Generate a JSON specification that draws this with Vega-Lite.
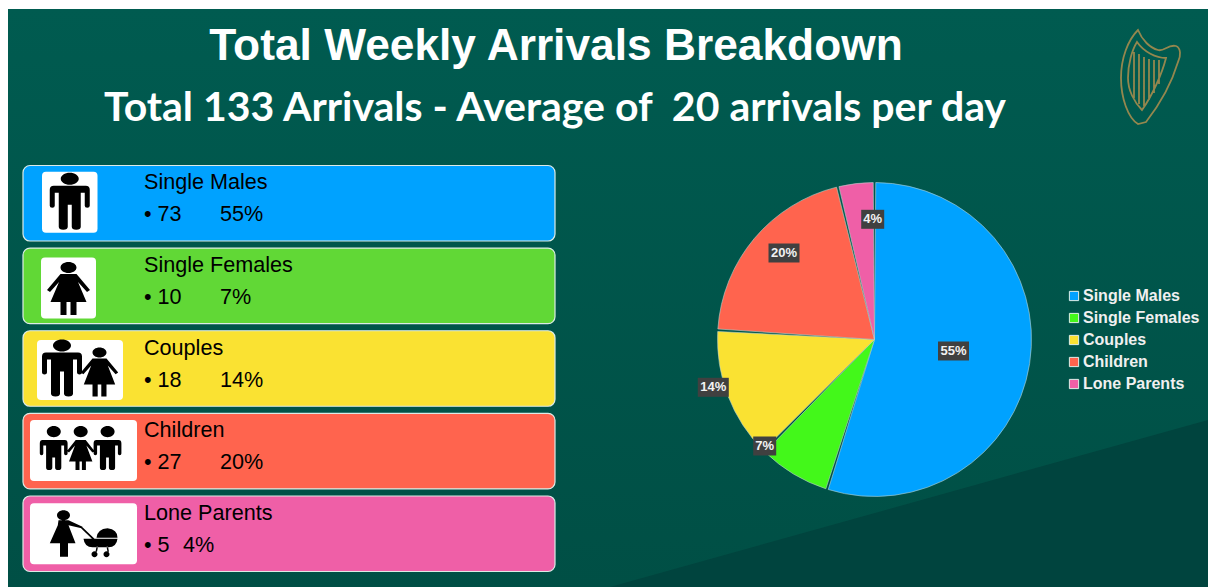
{
"$schema":"https://vega.github.io/schema/vega-lite/v6.json",
"width":1208,"height":587,
"autosize":{"type":"fit","contains":"padding"},
"padding":0,
"background":"#ffffff",
"config":{"view":{"stroke":null}},
"datasets":{"rows":[
{"category":"Single Males","count":73,"share":55,"rank":1,"bullet":"• 73","pct":"55%","label":"55%"},
{"category":"Single Females","count":10,"share":7,"rank":2,"bullet":"• 10","pct":"7%","label":"7%"},
{"category":"Couples","count":18,"share":14,"rank":3,"bullet":"• 18","pct":"14%","label":"14%"},
{"category":"Children","count":27,"share":20,"rank":4,"bullet":"• 27","pct":"20%","label":"20%"},
{"category":"Lone Parents","count":5,"share":4,"rank":5,"bullet":"• 5","pct":"4%","label":"4%"}
]},
"data":{"name":"rows"},
"resolve":{"scale":{"x":"independent","y":"independent","color":"independent"},"legend":{"color":"independent"}},
"layer":[
{"data":{"values":[{"part":"slide"}]},"mark":{"type":"rect","fill":{"gradient":"linear","x1":0,"y1":0,"x2":0,"y2":1,"stops":[{"offset":0,"color":"#005b50"},{"offset":1,"color":"#004f45"}]}},"encoding":{"x":{"value":8},"x2":{"value":1208},"y":{"value":9},"y2":{"value":587}}},
{"data":{"values":[{"part":"wedge"}]},"mark":{"type":"point","filled":true,"fill":"#00443e","opacity":1,"shape":"M1208,420L1208,587L610,587Z","size":4},"encoding":{"x":{"value":0},"y":{"value":0}}},
{"data":{"values":[{"part":"harp"}]},"mark":{"type":"point","filled":false,"stroke":"#9c8a4e","strokeWidth":1.8,"opacity":0.95,"size":4,"shape":"M-12,46C-22,40 -29,20 -29,0C-29,-20 -22,-38 -12,-48C-8,-38 0,-30 8,-28C14,-26 18,-34 26,-32C31,-30 31,-22 28,-16C22,4 10,26 -4,44L-12,46ZM-22,0C-22,-14 -18,-28 -13,-36C-6,-26 6,-20 16,-20C12,-4 2,18 -8,32C-16,24 -22,12 -22,0ZM-16,-26L-16,20M-11,-24L-11,26M-6,-21L-6,28M-1,-19L-1,22M4,-18L4,15M9,-18L9,6"},"encoding":{"x":{"value":1150},"y":{"value":78}}},
{"data":{"values":[{"heading":"Total Weekly Arrivals Breakdown"}]},"mark":{"type":"text","font":"Liberation Sans","fontWeight":"bold","fontSize":44.3,"fill":"#ffffff","align":"center","baseline":"middle"},"encoding":{"text":{"field":"heading"},"x":{"value":556},"y":{"value":47}}},
{"data":{"values":[{"heading":"Total 133 Arrivals - Average of \u00a020 arrivals per day"}]},"mark":{"type":"text","font":"Lato","fontWeight":"bold","fontSize":41,"fill":"#ffffff","align":"center","baseline":"middle"},"encoding":{"text":{"field":"heading"},"x":{"value":555},"y":{"value":109}}},
{"encoding":{"y":{"field":"category","type":"nominal","sort":null,"axis":null,"scale":{"domain":["Single Males","Single Females","Couples","Children","Lone Parents"],"range":[165.5,571.5],"paddingInner":0.086,"paddingOuter":0}}},
 "resolve":{"scale":{"shape":"independent"}},
 "layer":[
 {"mark":{"type":"rect","cornerRadius":7,"stroke":"#dcebe6","strokeWidth":1.2},"encoding":{"x":{"value":23},"x2":{"value":555},"fill":{"field":"category","type":"nominal","legend":null,"scale":{"domain":["Single Males","Single Females","Couples","Children","Lone Parents"],"range":["#00A2FF","#61D836","#FAE232","#FF644E","#EF5FA7"]}}}},
 {"mark":{"type":"point","filled":true,"fill":"#ffffff","opacity":1,"size":4},"encoding":{"x":{"value":83.5},"shape":{"field":"category","type":"nominal","legend":null,"scale":{"domain":["Single Males","Single Females","Couples","Children","Lone Parents"],"range":[
 "M-37.5,-31.5H10q4,0 4,4V25.5q0,4 -4,4H-37.5q-4,0 -4,-4V-27.5q0,-4 4,-4z",
 "M-38.5,-28.5H8.5q4,0 4,4V28.5q0,4 -4,4H-38.5q-4,0 -4,-4V-24.5q0,-4 4,-4z",
 "M-42.5,-28.5H35.5q4,0 4,4V27.5q0,4 -4,4H-42.5q-4,0 -4,-4V-24.5q0,-4 4,-4z",
 "M-49.5,-31H49.5q4,0 4,4V26q0,4 -4,4H-49.5q-4,0 -4,-4V-27q0,-4 4,-4z",
 "M-49.5,-30.5H49.5q4,0 4,4V26.5q0,4 -4,4H-49.5q-4,0 -4,-4V-26.5q0,-4 4,-4z"
 ]}}}},
 {"mark":{"type":"point","filled":true,"fill":"#000000","opacity":1,"size":4},"encoding":{"x":{"value":83.5},"shape":{"field":"category","type":"nominal","legend":null,"scale":{"domain":["Single Males","Single Females","Couples","Children","Lone Parents"],"range":[
 "M-22.75,-24.5a9,6 0 1,0 18,0a9,6 0 1,0 -18,0zM-29.75,-17.5h32q4,0 4,4v16q0,2 -2.5,2q-2.5,0 -2.5,-2v-13h-4v34q0,3 -4.5,3q-4.5,0 -4.5,-3v-22h-4v22q0,3 -4.5,3q-4.5,0 -4.5,-3v-34h-4v13q0,2 -2.5,2q-2.5,0 -2.5,-2v-16q0,-4 4,-4z",
 "M-23,-18.5a8,5.5 0 1,0 16,0a8,5.5 0 1,0 -16,0zM-23,-12h16l13.5,16l-3,2l-9,-10l8.5,20h-10v13h-6v-13h-4v13h-6v-13h-10l8.5,-20l-9,10l-3,-2l13.5,-16z",
 "M-30.5,-23a9,6 0 1,0 18,0a9,6 0 1,0 -18,0zM-37.5,-16h32q4,0 4,4v16q0,2 -2.5,2q-2.5,0 -2.5,-2v-13h-4v34q0,3 -4.5,3q-4.5,0 -4.5,-3v-22h-4v22q0,3 -4.5,3q-4.5,0 -4.5,-3v-34h-4v13q0,2 -2.5,2q-2.5,0 -2.5,-2v-16q0,-4 4,-4zM9,-16a7,5 0 1,0 14,0a7,5 0 1,0 -14,0zM9,-10h14l11.7,14l-2.6,1.7l-7.8,-8.7l7.4,19h-8.7v12h-5.2v-12h-3.6v12h-5.2v-12h-8.7l7.4,-19l-7.8,8.7l-2.6,-1.7l11.7,-14z",
 "M-36.7,-19.5a7,5.7 0 1,0 14,0a7,5.7 0 1,0 -14,0zM-9.8,-19.5a7,5.7 0 1,0 14,0a7,5.7 0 1,0 -14,0zM17.1,-19.5a7,5.7 0 1,0 14,0a7,5.7 0 1,0 -14,0zM-40.7,-11h22q2.8,0 2.8,3.4v10q0,1.7 -1.8,1.7q-1.7,0 -1.7,-1.7v-8h-2.8v22q0,2.6 -3,2.6q-3.2,0 -3.2,-2.6v-10h-2.8v10q0,2.6 -3.2,2.6q-3,0 -3,-2.6v-22h-2.8v8q0,1.7 -1.7,1.7q-1.8,0 -1.8,-1.7v-10q0,-3.4 2.8,-3.4zM13.1,-11h22q2.8,0 2.8,3.4v10q0,1.7 -1.8,1.7q-1.7,0 -1.7,-1.7v-8h-2.8v22q0,2.6 -3,2.6q-3.2,0 -3.2,-2.6v-10h-2.8v10q0,2.6 -3.2,2.6q-3,0 -3,-2.6v-22h-2.8v8q0,1.7 -1.7,1.7q-1.8,0 -1.8,-1.7v-10q0,-3.4 2.8,-3.4zM-7.8,-11h10l8.7,11l-2,1.5l-6,-7l6,16h-6.5v8.5h-4v-8.5h-2.4v8.5h-4v-8.5h-6.5l6,-16l-6,7l-2,-1.5z",
 "M-26.5,-18.5a6.5,5 0 1,0 13,0a6.5,5 0 1,0 -13,0zM-25,-13.5h10l14,6.5l-1,1.5l-13,-3l7,18H-15.5v13.5h-8v-13.5H-33.7l8,-18zM-1.5,-7L11,5l-1.5,1L-3,-6zM0,5h34q-1,8.5 -9,8.5h-16q-8,0 -9,-8.5zM13,4q1,-9 11,-9.5q10,1 10,9.5zM8,20.5a3,3 0 1,0 6,0a3,3 0 1,0 -6,0zM20,20.5a3,3 0 1,0 6,0a3,3 0 1,0 -6,0zM13,13l-1,5h1.5l1,-5zM23,13l1,5h1.5l-1,-5z"
 ]}}}},
 {"mark":{"type":"text","font":"Liberation Sans","fontSize":21.6,"fill":"#000000","align":"left","baseline":"middle","dy":-20},"encoding":{"text":{"field":"category"},"x":{"value":144}}},
 {"mark":{"type":"text","font":"Liberation Sans","fontSize":21.6,"fill":"#000000","align":"left","baseline":"middle","dy":12},"encoding":{"text":{"field":"bullet"},"x":{"value":144}}},
 {"mark":{"type":"text","font":"Liberation Sans","fontSize":21.6,"fill":"#000000","align":"left","baseline":"middle","dy":12},"encoding":{"text":{"field":"pct"},"x":{"field":"rank","type":"quantitative","axis":null,"scale":{"type":"linear","zero":false,"nice":false,"domain":[1,4,5],"range":[220,220,183]}}}}
 ]},
{"mark":{"type":"arc","outerRadius":157,"stroke":"#b9d2cd","strokeWidth":0.6,"padAngle":0.016},"encoding":{"x":{"value":874.5},"y":{"value":339.5},"theta":{"field":"count","type":"quantitative","stack":true,"scale":{"domain":[0,133],"range":[0,6.2832]}},"order":{"field":"rank"},"color":{"field":"category","type":"nominal","sort":null,"title":null,"legend":{"orient":"none","legendX":1066,"legendY":288,"symbolType":"square","symbolSize":85,"symbolStrokeColor":"#dfeee8","symbolStrokeWidth":1,"labelColor":"#f0f0f0","labelFont":"Liberation Sans","labelFontWeight":"bold","labelFontSize":16,"rowPadding":6,"labelOffset":1},"scale":{"domain":["Single Males","Single Females","Couples","Children","Lone Parents"],"range":["#00A2FF","#43F81A","#FAE232","#FF644E","#EF5FA7"]}}}},
{"encoding":{"x":{"field":"rank","type":"quantitative","axis":null,"scale":{"type":"linear","zero":false,"nice":false,"domain":[1,2,3,4,5],"range":[953.5,764.7,713.3,784,872.7]}},"y":{"field":"rank","type":"quantitative","axis":null,"scale":{"type":"linear","zero":false,"nice":false,"domain":[1,2,3,4,5],"range":[351,446,387.3,253,219.3]}}},
 "layer":[
 {"mark":{"type":"point","filled":true,"fill":"#404040","opacity":1,"size":4},"encoding":{"shape":{"field":"category","type":"nominal","legend":null,"scale":{"domain":["Single Males","Single Females","Couples","Children","Lone Parents"],"range":["M-15.5,-9.5h31v19h-31z","M-11.5,-9.5h23v19h-23z","M-15.5,-9.5h31v19h-31z","M-15.5,-9.5h31v19h-31z","M-11.5,-9.5h23v19h-23z"]}}}},
 {"mark":{"type":"text","font":"Liberation Sans","fontWeight":"bold","fontSize":13,"fill":"#f2f2f2","align":"center","baseline":"middle"},"encoding":{"text":{"field":"label"}}}
 ]}
]
}
